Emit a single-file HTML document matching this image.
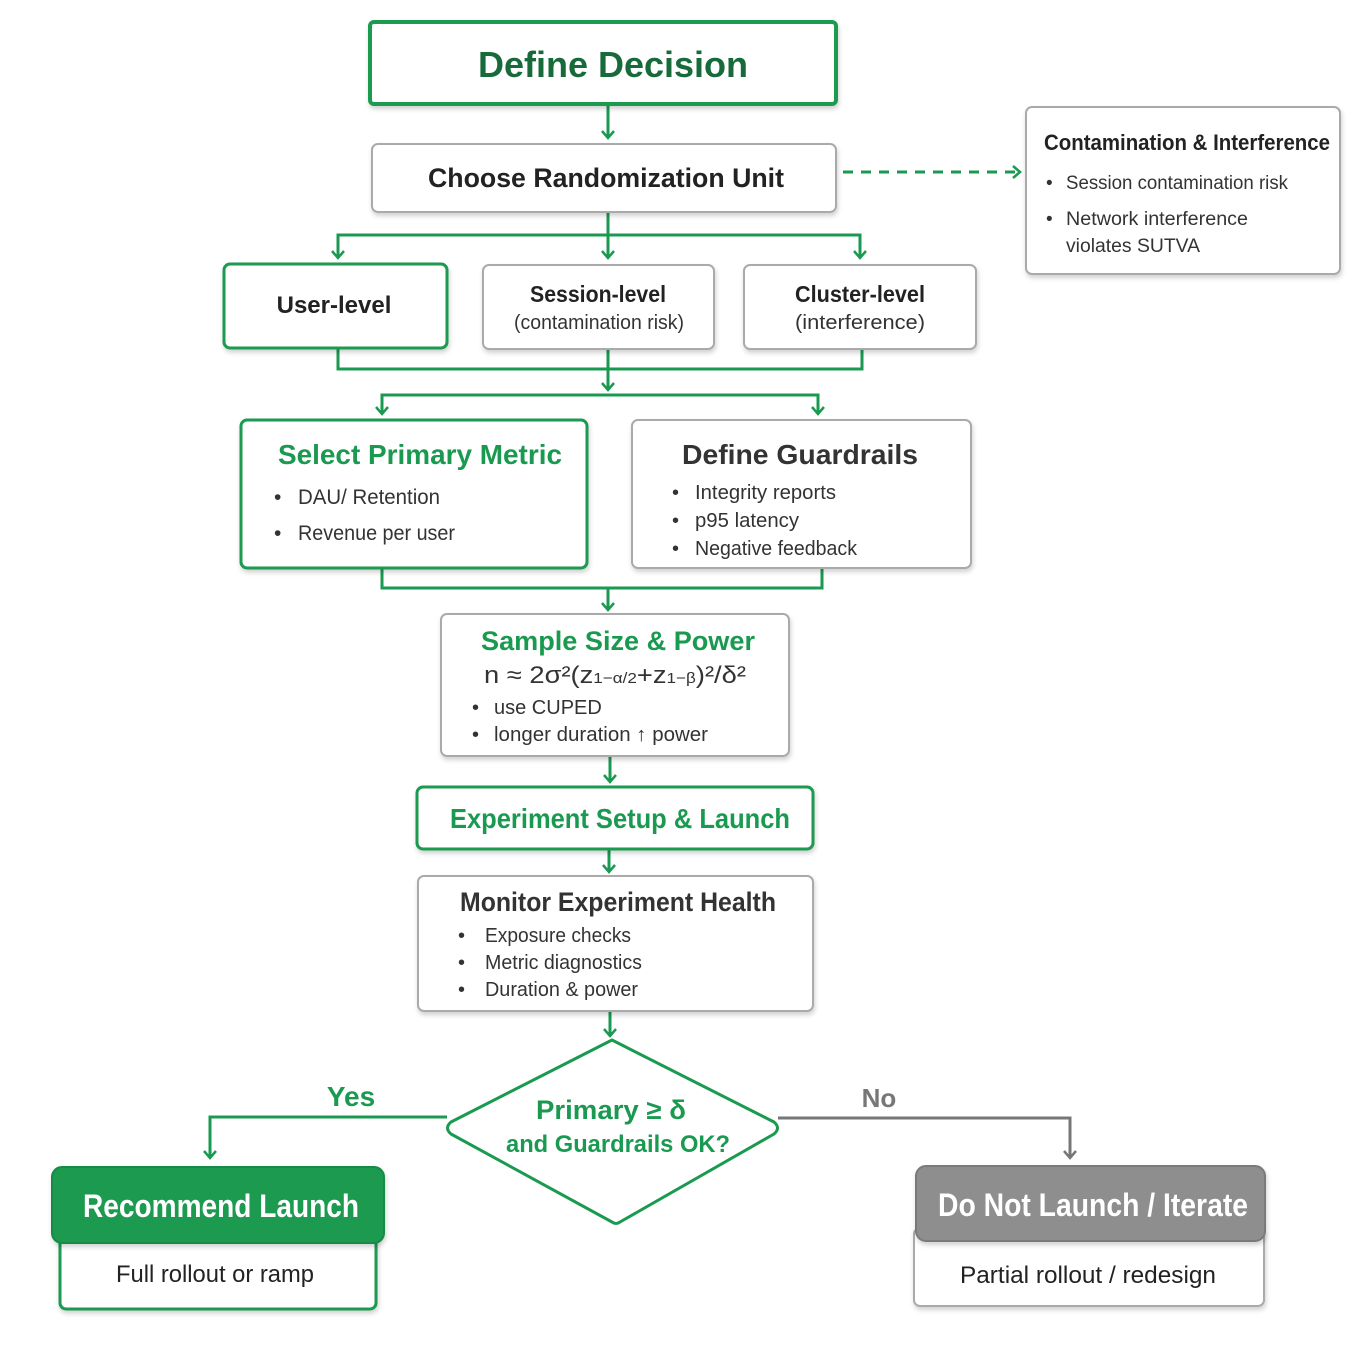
<!DOCTYPE html>
<html><head><meta charset="utf-8"><style>
html,body{margin:0;padding:0;background:#fff}
svg{display:block}
text{font-family:"Liberation Sans","DejaVu Sans",sans-serif}
</style></head><body>
<svg width="1360" height="1360" viewBox="0 0 1360 1360" xmlns="http://www.w3.org/2000/svg">
<defs>
<filter id="sh" x="-10%" y="-10%" width="120%" height="130%"><feDropShadow dx="1" dy="3" stdDeviation="2.5" flood-color="#000" flood-opacity="0.18"/></filter>
<marker id="ag" markerWidth="14" markerHeight="14" refX="11" refY="7" orient="auto" markerUnits="userSpaceOnUse" viewBox="0 0 14 14"><path d="M4,1 L11,7 L4,13" fill="none" stroke="#1a9a50" stroke-width="2.5"/></marker>
<marker id="ay" markerWidth="14" markerHeight="14" refX="11" refY="7" orient="auto" markerUnits="userSpaceOnUse" viewBox="0 0 14 14"><path d="M4,1 L11,7 L4,13" fill="none" stroke="#777" stroke-width="2.5"/></marker>
</defs>
<rect width="1360" height="1360" fill="#fff"/>

<g fill="none" stroke="#1a9a50" stroke-width="3">
<line x1="608" y1="104" x2="608" y2="138" marker-end="url(#ag)"/>
<line x1="608" y1="212" x2="608" y2="258" marker-end="url(#ag)"/>
<polyline points="338,258 338,235 860,235 860,258"/>
<line x1="338" y1="245" x2="338" y2="258" marker-end="url(#ag)"/>
<line x1="860" y1="245" x2="860" y2="258" marker-end="url(#ag)"/>
<polyline points="338,349 338,369 862,369 862,349"/>
<line x1="608" y1="349" x2="608" y2="390" marker-end="url(#ag)"/>
<polyline points="382,414 382,395 818,395 818,414"/>
<line x1="382" y1="400" x2="382" y2="414" marker-end="url(#ag)"/>
<line x1="818" y1="400" x2="818" y2="414" marker-end="url(#ag)"/>
<polyline points="382,568 382,588 822,588 822,568"/>
<line x1="608" y1="588" x2="608" y2="610" marker-end="url(#ag)"/>
<line x1="610" y1="756" x2="610" y2="782" marker-end="url(#ag)"/>
<line x1="609" y1="849" x2="609" y2="872" marker-end="url(#ag)"/>
<line x1="610" y1="1011" x2="610" y2="1036" marker-end="url(#ag)"/>
<polyline points="447,1117 210,1117 210,1158" marker-end="url(#ag)"/>
<line x1="843" y1="172" x2="1020" y2="172" stroke-dasharray="10,8" marker-end="url(#ag)"/>
</g>
<polyline points="778,1118 1070,1118 1070,1158" fill="none" stroke="#777" stroke-width="3" marker-end="url(#ay)"/>

<rect x="370" y="22" width="466" height="82" rx="4" fill="#fff" stroke="#1a9a50" stroke-width="4" filter="url(#sh)"/>
<text x="613" y="77" text-anchor="middle" font-size="36" font-weight="bold" fill="#176b3b">Define Decision</text>

<rect x="372" y="144" width="464" height="68" rx="6" fill="#fff" stroke="#aaa" stroke-width="2" filter="url(#sh)"/>
<text x="606" y="187" text-anchor="middle" font-size="27" font-weight="bold" fill="#222" textLength="356" lengthAdjust="spacingAndGlyphs">Choose Randomization Unit</text>

<rect x="1026" y="107" width="314" height="167" rx="6" fill="#fff" stroke="#aaa" stroke-width="2" filter="url(#sh)"/>
<text x="1044" y="150" font-size="22" font-weight="bold" fill="#222" textLength="286" lengthAdjust="spacingAndGlyphs">Contamination &amp; Interference</text>
<g font-size="19" fill="#333">
<text x="1046" y="189">•</text><text x="1066" y="189" textLength="222" lengthAdjust="spacingAndGlyphs">Session contamination risk</text>
<text x="1046" y="225">•</text><text x="1066" y="225" textLength="182" lengthAdjust="spacingAndGlyphs">Network interference</text>
<text x="1066" y="252" textLength="134" lengthAdjust="spacingAndGlyphs">violates SUTVA</text>
</g>

<rect x="224" y="264" width="223" height="84" rx="6" fill="#fff" stroke="#1a9a50" stroke-width="3" filter="url(#sh)"/>
<text x="334" y="313" text-anchor="middle" font-size="24" font-weight="bold" fill="#222">User-level</text>
<rect x="483" y="265" width="231" height="84" rx="6" fill="#fff" stroke="#aaa" stroke-width="2" filter="url(#sh)"/>
<text x="598" y="302" text-anchor="middle" font-size="23" font-weight="bold" fill="#222" textLength="136" lengthAdjust="spacingAndGlyphs">Session-level</text>
<text x="599" y="329" text-anchor="middle" font-size="20" fill="#333" textLength="170" lengthAdjust="spacingAndGlyphs">(contamination risk)</text>
<rect x="744" y="265" width="232" height="84" rx="6" fill="#fff" stroke="#aaa" stroke-width="2" filter="url(#sh)"/>
<text x="860" y="302" text-anchor="middle" font-size="23" font-weight="bold" fill="#222" textLength="130" lengthAdjust="spacingAndGlyphs">Cluster-level</text>
<text x="860" y="329" text-anchor="middle" font-size="20" fill="#333" textLength="130" lengthAdjust="spacingAndGlyphs">(interference)</text>

<rect x="241" y="420" width="346" height="148" rx="6" fill="#fff" stroke="#1a9a50" stroke-width="3" filter="url(#sh)"/>
<text x="420" y="464" text-anchor="middle" font-size="28" font-weight="bold" fill="#1a9a50" textLength="284" lengthAdjust="spacingAndGlyphs">Select Primary Metric</text>
<g font-size="21" fill="#333">
<text x="274" y="504">•</text><text x="298" y="504" textLength="142" lengthAdjust="spacingAndGlyphs">DAU/ Retention</text>
<text x="274" y="540">•</text><text x="298" y="540" textLength="157" lengthAdjust="spacingAndGlyphs">Revenue per user</text>
</g>

<rect x="632" y="420" width="339" height="148" rx="6" fill="#fff" stroke="#aaa" stroke-width="2" filter="url(#sh)"/>
<text x="800" y="464" text-anchor="middle" font-size="28" font-weight="bold" fill="#333" textLength="236" lengthAdjust="spacingAndGlyphs">Define Guardrails</text>
<g font-size="20" fill="#333">
<text x="672" y="499">•</text><text x="695" y="499" textLength="141" lengthAdjust="spacingAndGlyphs">Integrity reports</text>
<text x="672" y="527">•</text><text x="695" y="527" textLength="104" lengthAdjust="spacingAndGlyphs">p95 latency</text>
<text x="672" y="555">•</text><text x="695" y="555" textLength="162" lengthAdjust="spacingAndGlyphs">Negative feedback</text>
</g>

<rect x="441" y="614" width="348" height="142" rx="6" fill="#fff" stroke="#aaa" stroke-width="2" filter="url(#sh)"/>
<text x="618" y="650" text-anchor="middle" font-size="27" font-weight="bold" fill="#1a9a50" textLength="274" lengthAdjust="spacingAndGlyphs">Sample Size &amp; Power</text>
<text x="615" y="683" text-anchor="middle" font-size="24" fill="#333" textLength="262" lengthAdjust="spacingAndGlyphs">n ≈ 2σ²(z<tspan font-size="15">1−α/2</tspan>+z<tspan font-size="15">1−β</tspan>)²/δ²</text>
<g font-size="20" fill="#333">
<text x="472" y="714">•</text><text x="494" y="714">use CUPED</text>
<text x="472" y="741">•</text><text x="494" y="741" textLength="214" lengthAdjust="spacingAndGlyphs">longer duration ↑ power</text>
</g>

<rect x="417" y="787" width="396" height="62" rx="6" fill="#fff" stroke="#1a9a50" stroke-width="3" filter="url(#sh)"/>
<text x="620" y="828" text-anchor="middle" font-size="28" font-weight="bold" fill="#1a9a50" textLength="340" lengthAdjust="spacingAndGlyphs">Experiment Setup &amp; Launch</text>

<rect x="418" y="876" width="395" height="135" rx="6" fill="#fff" stroke="#aaa" stroke-width="2" filter="url(#sh)"/>
<text x="618" y="911" text-anchor="middle" font-size="27" font-weight="bold" fill="#333" textLength="316" lengthAdjust="spacingAndGlyphs">Monitor Experiment Health</text>
<g font-size="20" fill="#333">
<text x="458" y="942">•</text><text x="485" y="942" textLength="146" lengthAdjust="spacingAndGlyphs">Exposure checks</text>
<text x="458" y="969">•</text><text x="485" y="969" textLength="157" lengthAdjust="spacingAndGlyphs">Metric diagnostics</text>
<text x="458" y="996">•</text><text x="485" y="996" textLength="153" lengthAdjust="spacingAndGlyphs">Duration &amp; power</text>
</g>

<path d="M612,1040 L774,1122 Q781,1128 774,1134 L620,1222 Q616,1225 612,1222 L451,1134 Q444,1128 451,1122 Z" fill="#fff" stroke="#1a9a50" stroke-width="3" stroke-linejoin="round"/>
<text x="611" y="1119" text-anchor="middle" font-size="27" font-weight="bold" fill="#1a9a50" textLength="150" lengthAdjust="spacingAndGlyphs">Primary ≥ δ</text>
<text x="618" y="1152" text-anchor="middle" font-size="24" font-weight="bold" fill="#1a9a50" textLength="224" lengthAdjust="spacingAndGlyphs">and Guardrails OK?</text>
<text x="351" y="1106" text-anchor="middle" font-size="28" font-weight="bold" fill="#1a9a50">Yes</text>
<text x="879" y="1107" text-anchor="middle" font-size="26" font-weight="bold" fill="#777">No</text>

<rect x="60" y="1230" width="316" height="79" rx="6" fill="#fff" stroke="#1a9a50" stroke-width="3" filter="url(#sh)"/>
<rect x="52" y="1167" width="332" height="76" rx="10" fill="#1a9a50" stroke="#168a46" stroke-width="2" filter="url(#sh)"/>
<text x="221" y="1217" text-anchor="middle" font-size="32" font-weight="bold" fill="#fff" textLength="276" lengthAdjust="spacingAndGlyphs">Recommend Launch</text>
<text x="215" y="1282" text-anchor="middle" font-size="24" fill="#222" textLength="198" lengthAdjust="spacingAndGlyphs">Full rollout or ramp</text>

<rect x="914" y="1228" width="350" height="78" rx="6" fill="#fff" stroke="#aaa" stroke-width="2" filter="url(#sh)"/>
<rect x="916" y="1166" width="349" height="75" rx="10" fill="#8e8e8e" stroke="#7a7a7a" stroke-width="2" filter="url(#sh)"/>
<text x="1093" y="1216" text-anchor="middle" font-size="32" font-weight="bold" fill="#fff" textLength="310" lengthAdjust="spacingAndGlyphs">Do Not Launch / Iterate</text>
<text x="1088" y="1283" text-anchor="middle" font-size="24" fill="#222" textLength="256" lengthAdjust="spacingAndGlyphs">Partial rollout / redesign</text>
</svg>
</body></html>
